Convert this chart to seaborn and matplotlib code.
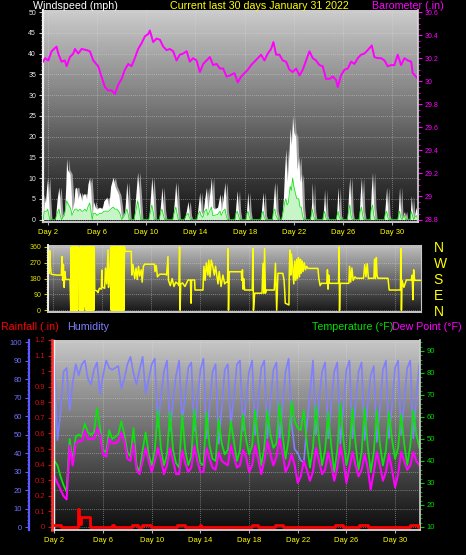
import numpy as np
import pandas as pd
import matplotlib
matplotlib.use("Agg")
import matplotlib.pyplot as plt
import seaborn as sns
from matplotlib.ticker import MultipleLocator, FuncFormatter
from matplotlib.transforms import offset_copy

# ---------------- data ----------------
day_ticks = [2, 6, 10, 14, 18, 22, 26, 30]

# wind speed (mph): gust and average
wind_day = [1.62, 1.70, 1.80, 1.90, 1.98, 2.05, 2.15, 2.60, 2.75, 2.90, 3.00, 3.10,
            3.35, 3.45, 3.52, 3.60, 3.79, 3.90, 3.95, 4.10, 4.20, 4.33, 4.45, 4.60,
            4.75, 4.85, 5.00, 5.15, 5.25, 5.40, 5.50, 5.60, 5.70, 5.85, 6.00, 6.20,
            6.40, 6.55, 6.80, 6.95, 7.10, 7.30, 7.45, 7.60, 7.75, 7.85, 8.00, 8.25,
            8.42, 8.55, 8.60, 9.00, 9.15, 9.30, 9.45, 9.55, 10.20, 10.35, 10.45, 10.55,
            10.65, 11.05, 11.20, 11.27, 11.40, 11.50, 12.15, 12.30, 12.40, 12.50, 12.60, 13.10,
            13.25, 13.40, 13.50, 13.60, 14.10, 14.25, 14.35, 14.45, 14.60, 14.75, 14.90, 15.00,
            15.15, 15.30, 15.40, 15.55, 15.80, 16.00, 16.10, 16.25, 16.40, 16.50, 16.60, 17.20,
            17.30, 17.40, 17.50, 17.60, 18.10, 18.20, 18.26, 18.35, 18.45, 19.30, 19.42, 19.50,
            19.60, 19.70, 20.25, 20.35, 20.45, 20.55, 20.70, 21.00, 21.15, 21.25, 21.35, 21.45,
            21.55, 21.70, 21.80, 21.90, 22.00, 22.15, 22.25, 22.40, 22.50, 22.60, 22.70, 22.80,
            23.35, 23.45, 23.50, 23.60, 23.70, 24.35, 24.45, 24.50, 24.60, 24.70, 25.45, 25.55,
            25.60, 25.70, 25.80, 26.35, 26.45, 26.55, 26.65, 26.75, 27.30, 27.40, 27.50, 27.60,
            27.70, 28.20, 28.30, 28.40, 28.50, 28.60, 29.35, 29.45, 29.55, 29.65, 29.75, 30.45,
            30.55, 30.60, 30.70, 30.80, 31.00, 31.10, 31.45, 31.55, 31.65, 31.75, 31.95, 32.10]
wind_gust = [0, 6, 4, 8, 10.2, 5, 0, 0, 5, 7.8, 3, 0,
             2, 8, 14.7, 12, 11, 6, 2, 4, 7.5, 7.8, 5, 6.6,
             4.5, 6, 6.3, 5, 8.5, 10.2, 6, 0.5, 4.4, 3, 2.5, 3,
             2.5, 4.5, 5.4, 3, 8, 10.2, 8, 7, 6, 4, 0, 2,
             9, 2, 0, 0, 6, 11.4, 5, 0, 0, 6, 10.2, 6,
             0, 0, 5, 7.8, 2, 0, 0, 5, 9, 4, 0, 0,
             2, 4.4, 1, 0, 0, 4, 6.6, 2, 1, 5, 7.8, 2,
             6, 10.2, 3, 2.5, 3, 6.2, 2, 5, 9, 2, 0, 0,
             4, 7, 2, 0, 0, 4, 6.6, 2, 0, 0, 4, 6.6,
             1, 0, 0, 5, 9, 2, 0, 0, 5, 12, 17, 9,
             13, 22, 18, 25, 21, 20, 12, 15, 9, 11, 3, 0,
             0, 4, 9, 2, 0, 0, 4, 7.3, 1, 0, 0, 5,
             7.8, 1, 0, 0, 6, 10.2, 2, 0, 0, 6, 10.2, 2,
             0, 0, 7, 11.4, 3, 0, 0, 4, 7.8, 1, 0, 0,
             5, 7.8, 1, 0, 2, 0, 0, 5.8, 2, 0, 3, 0]
wind_avg = [0, 2, 2, 2, 2.5, 1.5, 0, 0, 1.5, 2.5, 1, 0,
            1, 3, 4.5, 4, 3, 2, 1, 2, 2.5, 2.5, 2, 2.5,
            2, 2, 2.5, 2, 3, 4, 2, 0, 1.5, 1.5, 1, 1.5,
            1.5, 2, 2, 2, 2.5, 3, 2.5, 2.5, 2, 1.5, 0, 1,
            2.5, 1, 0, 0, 2, 4.5, 2, 0, 0, 2, 3.5, 2,
            0, 0, 2, 2.5, 1, 0, 0, 2, 3, 1.5, 0, 0,
            1, 1.5, 0.5, 0, 0, 1.5, 2, 1, 0.5, 2, 2.5, 1,
            2, 3, 1, 1, 1.2, 2, 1, 2, 2.5, 1, 0, 0,
            1.5, 2, 1, 0, 0, 1.5, 2, 1, 0, 0, 1.5, 2,
            0.5, 0, 0, 2, 2.5, 1, 0, 0, 2, 4, 5, 3.5,
            4, 8, 7, 10, 8, 6, 5, 5, 3, 3, 1, 0,
            0, 1.5, 2.5, 1, 0, 0, 1.5, 2, 0.5, 0, 0, 1.5,
            2, 0.5, 0, 0, 2, 3.5, 1, 0, 0, 2, 3, 1,
            0, 0, 2.5, 3.5, 1, 0, 0, 1.5, 2, 0.5, 0, 0,
            1.5, 2, 0.5, 0, 1, 0, 0, 2, 1, 0, 1, 0]

# barometer (inHg)
baro_day = [1.62, 1.76, 2.03, 2.30, 2.70, 2.84, 3.11, 3.38, 3.52, 3.79, 4.06, 4.20,
            4.47, 4.74, 5.14, 5.41, 5.69, 6.09, 6.36, 6.63, 6.90, 7.18, 7.45, 7.72,
            7.99, 8.26, 8.53, 8.80, 9.07, 9.34, 9.62, 9.89, 10.16, 10.29, 10.56, 10.84,
            11.11, 11.38, 11.65, 11.92, 12.19, 12.46, 12.73, 13.00, 13.28, 13.54, 13.81, 14.09,
            14.36, 14.63, 14.90, 15.17, 15.44, 15.72, 15.98, 16.25, 16.53, 16.80, 17.17, 17.44,
            17.71, 17.99, 18.26, 18.53, 18.80, 19.07, 19.34, 19.61, 19.88, 20.15, 20.34, 20.56,
            20.83, 21.10, 21.37, 21.64, 21.91, 22.19, 22.46, 22.73, 23.00, 23.27, 23.54, 23.81,
            24.08, 24.35, 24.62, 24.90, 25.17, 25.44, 25.57, 25.84, 26.12, 26.39, 26.66, 26.93,
            27.20, 27.47, 27.74, 28.01, 28.34, 28.55, 28.83, 29.10, 29.37, 29.64, 29.91, 30.18,
            30.45, 30.72, 31.00, 31.27, 31.54, 31.67, 31.94, 32.10]
baro_inhg = [30.17, 30.20, 30.18, 30.26, 30.30, 30.24, 30.17, 30.18, 30.13, 30.21, 30.24, 30.28,
             30.24, 30.28, 30.27, 30.26, 30.18, 30.13, 30.04, 29.95, 29.92, 29.92, 29.89, 29.97,
             30.02, 30.10, 30.15, 30.13, 30.20, 30.28, 30.33, 30.39, 30.41, 30.44, 30.34, 30.37,
             30.36, 30.30, 30.27, 30.28, 30.26, 30.18, 30.23, 30.24, 30.26, 30.17, 30.20, 30.18,
             30.08, 30.15, 30.18, 30.21, 30.14, 30.15, 30.11, 30.11, 30.04, 30.05, 30.07, 29.99,
             30.04, 30.07, 30.10, 30.14, 30.17, 30.20, 30.23, 30.18, 30.24, 30.28, 30.34, 30.23,
             30.23, 30.18, 30.17, 30.10, 30.08, 30.11, 30.05, 30.10, 30.18, 30.26, 30.20, 30.18,
             30.14, 30.13, 30.02, 30.02, 30.04, 30.01, 29.95, 30.05, 30.10, 30.11, 30.17, 30.15,
             30.20, 30.23, 30.24, 30.27, 30.31, 30.21, 30.20, 30.20, 30.18, 30.13, 30.14, 30.14,
             30.23, 30.14, 30.20, 30.18, 30.17, 30.07, 30.04, 30.02]

# wind direction (degrees)
wdir_day = [1.70, 1.74, 1.80, 1.86, 2.30, 2.69, 2.75, 2.80, 2.86, 2.92, 2.98, 3.05, 3.40,
            3.46, 3.50, 3.54, 3.58, 3.62, 3.66, 3.70, 3.74, 3.78, 3.82, 3.86, 3.90, 3.94, 3.98, 4.02, 4.05,
            4.10, 4.15,
            4.19, 4.23, 4.27, 4.31, 4.35, 4.39, 4.43, 4.47, 4.51, 4.55,
            4.60, 4.63,
            4.66, 4.70, 4.74, 4.78, 4.82, 4.86, 4.90, 4.94, 4.98, 5.02, 5.06, 5.10, 5.14, 5.18,
            5.22, 5.26, 5.30, 5.34, 5.38,
            5.42, 5.60, 5.69, 5.80, 5.96, 6.00, 6.05, 6.23, 6.30, 6.40, 6.51, 6.55, 6.64,
            6.73, 6.77, 6.81, 6.85, 6.89, 6.93, 6.97, 7.01, 7.05, 7.09, 7.13, 7.17, 7.21, 7.25,
            7.29, 7.33, 7.37, 7.41, 7.45, 7.49, 7.53, 7.57, 7.61, 7.65, 7.69, 7.73, 7.77, 7.81, 7.85,
            7.90, 8.41, 8.45, 8.55, 8.69, 8.80, 8.90, 9.00, 9.10, 9.23, 9.30, 9.40, 9.50,
            10.30, 10.35, 10.45, 10.55, 10.73, 11.20, 11.30, 11.41, 11.45, 11.60, 11.75, 11.90,
            12.05, 12.23, 12.30, 12.36, 12.40, 12.45, 12.60, 12.80, 13.05, 13.25, 13.30, 13.34,
            13.59, 13.62, 14.27, 14.35, 14.45, 14.55, 14.68, 14.75, 14.85, 14.95, 15.10, 15.20,
            15.30, 15.50, 15.60, 15.75, 15.90, 16.05, 16.18, 16.28, 16.32, 16.36, 16.42, 17.41,
            17.45, 17.50, 17.55, 17.60, 17.68, 18.30, 18.36, 18.40, 18.50, 19.10, 19.18, 19.25,
            19.31, 19.38, 19.45, 20.10, 20.20, 20.30, 20.40, 20.80, 20.90, 20.95, 21.00, 21.30,
            21.33, 21.38, 21.45, 21.50, 21.60, 21.70, 21.78, 21.86, 21.94, 22.00, 22.08, 22.16,
            22.24, 22.30, 22.38, 22.46, 22.55, 22.65, 22.75, 22.86, 23.67, 23.75, 23.85, 23.95,
            24.40, 24.45, 24.50, 24.55, 24.60, 25.36, 25.40, 25.44, 25.48, 26.20, 26.26, 26.35,
            26.45, 26.55, 26.70, 26.81, 27.40, 27.50, 27.60, 27.70, 27.80, 27.90, 28.25, 28.30,
            28.38, 28.45, 28.50, 28.58, 29.40, 29.50, 30.42, 30.45, 30.50, 30.55, 30.70, 30.90,
            31.30, 31.38, 31.44, 31.50, 31.58, 32.10]
wdir_deg = [210, 340, 250, 205, 200, 200, 305, 170, 260, 130, 220, 175, 175,
            0, 360, 0, 360, 0, 360, 0, 360, 0, 360, 0, 360, 0, 360, 0, 360,
            300, 350,
            0, 360, 0, 360, 0, 360, 0, 360, 0, 360,
            340, 20,
            360, 0, 360, 0, 360, 0, 360, 0, 360, 0, 360, 0, 360, 0,
            360, 0, 360, 0, 360,
            115, 110, 100, 125, 120, 229, 130, 125, 240, 150, 343, 130, 200,
            360, 0, 360, 0, 360, 0, 360, 0, 360, 0, 360, 0, 360, 0,
            360, 0, 360, 0, 360, 0, 360, 0, 360, 0, 360, 0, 360, 0, 360,
            335, 335, 200, 260, 180, 240, 175, 250, 195, 230, 160, 250, 262,
            262, 220, 255, 190, 205, 205, 200, 305, 170, 140, 180, 135,
            160, 150, 140, 360, 0, 150, 155, 135, 172, 172, 40, 172,
            172, 115, 115, 250, 170, 270, 200, 285, 190, 285, 240, 200,
            250, 150, 220, 135, 200, 150, 160, 160, 350, 0, 219, 219,
            170, 230, 120, 180, 115, 115, 350, 0, 97, 97, 267, 97,
            350, 97, 115, 115, 267, 0, 210, 210, 172, 120, 40, 30,
            210, 343, 200, 320, 250, 150, 280, 170, 290, 180, 300, 190,
            290, 210, 280, 220, 270, 230, 250, 238, 238, 180, 140, 153,
            153, 230, 120, 200, 153, 153, 360, 0, 153, 153, 250, 160,
            240, 170, 190, 182, 182, 260, 190, 265, 180, 182, 182, 290,
            180, 300, 200, 182, 182, 115, 115, 350, 0, 170, 130, 172,
            172, 200, 60, 230, 170, 170]

# humidity / temperature / dew point, every 6 hours from day 1.75
obs_day = np.arange(1.75, 32.01, 0.25)
humidity = [91,
            91, 47, 62, 84,  86, 63, 78, 88,  82, 88, 90, 80,  77, 85, 89, 72,
            82, 90, 86, 85,  86, 87, 75, 80,  88, 92, 83, 77,  85, 92, 72, 80,
            88, 91, 54, 70,  84, 90, 52, 68,  82, 90, 57, 70,  86, 89, 52, 68,
            85, 91, 48, 66,  84, 88, 45, 64,  85, 88, 55, 70,  88, 90, 52, 68,
            84, 90, 50, 68,  86, 90, 48, 68,  85, 89, 46, 66,  84, 91, 55, 42,
            40, 36, 35, 55,  72, 90, 50, 68,  84, 89, 48, 66,  84, 89, 45, 65,
            85, 90, 48, 66,  84, 89, 47, 66,  82, 87, 46, 64,  85, 90, 48, 66,
            86, 90, 50, 68,  86, 90, 48, 70,
            88]
temperature = [32,
               40, 38, 33, 29,  26, 50, 40, 51,  52, 51, 57, 53,  52, 53, 64, 55,
               45, 44, 54, 50,  51, 52, 58, 52,  44, 42, 55, 38,  35, 45, 53, 43,
               38, 45, 63, 46,  38, 43, 62, 45,  39, 37, 61, 45,  38, 42, 63, 46,
               39, 38, 62, 47,  41, 40, 59, 48,  43, 45, 58, 49,  40, 45, 61, 50,
               43, 47, 63, 49,  38, 46, 63, 52,  46, 48, 66, 52,  41, 50, 67, 58,
               55, 54, 63, 48,  37, 46, 65, 50,  38, 45, 62, 47,  35, 45, 66, 50,
               38, 45, 64, 48,  36, 44, 64, 47,  35, 44, 63, 48,  38, 45, 62, 50,
               41, 46, 61, 48,  38, 47, 63, 52,
               46]
dew_point = [25,
             33, 30, 27, 24,  22.5, 47, 38, 48,  49, 49, 54, 50,  50, 50, 55, 52,
             43, 42, 50, 48,  48, 49, 53, 49,  41, 40, 48, 36,  34, 40, 46, 40,
             35, 40, 46, 41,  34, 38, 46, 40,  34, 34, 45, 39,  35, 37, 47, 40,
             35, 35, 46, 41,  37, 36, 44, 40,  39, 38, 47, 42,  37, 38, 45, 42,
             35, 38, 47, 41,  34, 40, 49, 43,  38, 42, 50, 44,  35, 38, 43, 38,
             30, 33, 40, 36,  31, 35, 46, 40,  34, 36, 44, 38,  31, 37, 47, 40,
             30, 37, 44, 38,  33, 36, 43, 37,  27, 35, 44, 38,  31, 35, 43, 36,
             28, 34, 44, 40,  36, 38, 44, 40,
             38]

# rainfall (in), stepped
rain_day = [1.80, 2.50, 3.90, 3.95, 4.02, 4.20, 4.95, 6.75, 6.90, 8.40, 8.90, 9.20, 9.90,
            12.10, 12.70, 13.95, 14.05, 18.20, 18.70, 20.10, 20.80, 25.10, 25.70, 27.00,
            27.80, 31.20, 31.90, 32.05]
rain_in = [0.01, 0.0, 0.02, 0.115, 0.02, 0.065, 0.0, 0.01, 0.0, 0.01, 0.0, 0.01, 0.0,
           0.01, 0.0, 0.01, 0.0, 0.01, 0.0, 0.01, 0.0, 0.01, 0.0, 0.01,
           0.0, 0.01, 0.0, 0.0]

# ---------------- drawing ----------------
plt.rcParams['font.family'] = ['Liberation Sans', 'DejaVu Sans']
W, H = 466, 555
fig = plt.figure(figsize=(W / 100, H / 100), dpi=100, facecolor='black')


def px_axes(left, top, right, bottom):
    return fig.add_axes([left / W, 1 - bottom / H, (right - left) / W, (bottom - top) / H])


def shade(ax, top, bottom):
    ramp = np.linspace(top, bottom, 200)[:, None]
    ax.imshow(ramp, cmap='gray', vmin=0, vmax=1, extent=(0, 1, 0, 1),
              transform=ax.transAxes, aspect='auto', zorder=0, interpolation='bilinear')


def dotted_grid(ax):
    ax.grid(True, which='major', color='#e0e0e0', linestyle=(0, (1, 1.5)), lw=0.6, alpha=0.55)


gfmt = FuncFormatter(lambda v, p: f'{v:g}')
day_labels = [f'Day {d}' for d in day_ticks]

# ---- panel 1: wind speed + barometer
ax1 = px_axes(43, 10, 418, 222)
shade(ax1, 0.80, 0.07)
shadow = ax1.fill_between(wind_day, 0, wind_gust, color='#a0a0a0', lw=0, zorder=2)
shadow.set_transform(offset_copy(ax1.transData, fig=fig, x=1.6, y=0, units='points'))
ax1.fill_between(wind_day, 0, wind_gust, color='white', lw=0, zorder=3)
ax1.fill_between(wind_day, 0, wind_avg, color='#c8f5c8', lw=0, zorder=4)
sns.lineplot(x=wind_day, y=wind_avg, ax=ax1, color='#20e020', lw=0.6,
             estimator=None, sort=False, zorder=5)
ax1b = ax1.twinx()
sns.lineplot(x=baro_day, y=baro_inhg, ax=ax1b, color='#ff00ff', lw=1.4,
             estimator=None, sort=False)

ax1.set_xlim(1.6, 32.1)
ax1.set_ylim(-0.6, 50.5)
ax1b.set_ylim(28.8 - 0.6 * 0.036, 28.8 + 50.5 * 0.036)
ax1.set_xticks(day_ticks)
ax1.set_xticklabels(day_labels)
ax1.set_yticks(range(0, 51, 5))
ax1.yaxis.set_minor_locator(MultipleLocator(1))
ax1b.set_yticks([28.8, 29.0, 29.2, 29.4, 29.6, 29.8, 30.0, 30.2, 30.4, 30.6])
ax1b.yaxis.set_major_formatter(gfmt)
ax1b.yaxis.set_minor_locator(MultipleLocator(0.05))
ax1.tick_params(axis='x', labelcolor='#ffff00', color='#b0b0b0', labelsize=5.5, length=2, pad=3)
ax1.tick_params(axis='y', which='major', labelcolor='#e8e8e8', color='#c8c8c8', labelsize=5, length=3, pad=2)
ax1.tick_params(axis='y', which='minor', color='#a0a0a0', length=1.5)
ax1b.tick_params(axis='y', which='major', labelcolor='#ff00ff', color='#ff00ff', labelsize=5, length=3, pad=2)
ax1b.tick_params(axis='y', which='minor', color='#ff00ff', length=1.5)
dotted_grid(ax1)
for s in ['top', 'right']:
    ax1.spines[s].set_visible(False)
ax1.spines['left'].set_color('#f0f0f0')
ax1.spines['left'].set_linewidth(1.6)
ax1.spines['bottom'].set_color('#c8c8c8')
ax1.spines['bottom'].set_linewidth(1.4)
for s in ['top', 'left', 'bottom']:
    ax1b.spines[s].set_visible(False)
ax1b.spines['right'].set_color('#d8d8d8')
ax1b.spines['right'].set_linewidth(1.2)
ax1b.set_ylabel('')
ax1.set_ylabel('')

# ---- panel 2: wind direction
ax2 = px_axes(48, 245, 421, 312)
shade(ax2, 0.76, 0.09)
sns.lineplot(x=wdir_day, y=wdir_deg, ax=ax2, color='#ffff00', lw=1.1,
             estimator=None, sort=False)
ax2.set_xlim(1.6, 32.1)
ax2.set_ylim(-10, 371)
ax2.set_xticks(day_ticks)
ax2.set_xticklabels([])
ax2.set_yticks([0, 90, 180, 270, 360])
ax2.yaxis.set_minor_locator(MultipleLocator(15))
ax2.tick_params(axis='x', length=0)
ax2.tick_params(axis='y', which='major', labelcolor='#e6e600', color='#d0d000', labelsize=5, length=3, pad=2)
ax2.tick_params(axis='y', which='minor', color='#b0b000', length=1.5)
dotted_grid(ax2)
ax2b = ax2.twinx()
ax2b.set_ylim(-10, 371)
ax2b.set_yticks([0, 90, 180, 270, 360])
ax2b.set_yticklabels(['N', 'E', 'S', 'W', 'N'])
ax2b.tick_params(axis='y', length=0, labelsize=10, labelcolor='#ffff00', pad=9)
for s in ['top', 'right']:
    ax2.spines[s].set_visible(False)
ax2.spines['left'].set_color('#f0f0f0')
ax2.spines['left'].set_linewidth(1.4)
ax2.spines['bottom'].set_color('#c8c8c8')
ax2.spines['bottom'].set_linewidth(1.4)
for s in ['top', 'left', 'bottom']:
    ax2b.spines[s].set_visible(False)
ax2b.spines['right'].set_color('#c8c8c8')
ax2.set_ylabel('')

# ---- panel 3: humidity, temperature, dew point, rainfall
ax3 = px_axes(52, 340, 420, 530)
shade(ax3, 0.78, 0.05)
sns.lineplot(x=obs_day, y=humidity, ax=ax3, color='#8080ff', lw=1.2,
             estimator=None, sort=False)
ax3t = ax3.twinx()
sns.lineplot(x=obs_day, y=temperature, ax=ax3t, color='#10e010', lw=1.3,
             estimator=None, sort=False)
sns.lineplot(x=obs_day, y=dew_point, ax=ax3t, color='#ff00ff', lw=1.5,
             estimator=None, sort=False)
ax3r = ax3.twinx()
sns.lineplot(x=rain_day, y=rain_in, ax=ax3r, color='#ff0000', lw=2.0,
             estimator=None, sort=False, drawstyle='steps-post')

ax3.set_xlim(1.8, 32.05)
ax3.set_ylim(-1.6, 101.1)
ax3t.set_ylim(8.6, 95)
ax3r.set_ylim(-0.0193, 1.2)
ax3.set_xticks(day_ticks)
ax3.set_xticklabels(day_labels)
ax3.set_yticks(range(0, 101, 10))
ax3.yaxis.set_minor_locator(MultipleLocator(2))
ax3t.set_yticks(range(10, 91, 10))
ax3t.yaxis.set_minor_locator(MultipleLocator(2))
ax3r.set_yticks([i / 10 for i in range(13)])
ax3r.yaxis.set_major_formatter(gfmt)
ax3r.yaxis.set_minor_locator(MultipleLocator(0.025))
ax3r.yaxis.tick_left()
ax3r.yaxis.set_label_position('left')

ax3.tick_params(axis='x', labelcolor='#ffff00', color='#b0b0b0', labelsize=5.5, length=2, pad=3)
ax3.tick_params(axis='y', which='major', labelcolor='#7070ff', color='#6060ff', labelsize=5.5, length=3, pad=2)
ax3.tick_params(axis='y', which='minor', color='#6060ff', length=1.5)
ax3t.tick_params(axis='y', which='major', labelcolor='#00d800', color='#00d000', labelsize=5.5, length=3, pad=2)
ax3t.tick_params(axis='y', which='minor', color='#00c000', length=1.5)
ax3r.tick_params(axis='y', which='major', labelcolor='#d01010', color='#d01010', labelsize=5.5, length=3, pad=2)
ax3r.tick_params(axis='y', which='minor', color='#c01010', length=1.5)
dotted_grid(ax3)

ax3.spines['left'].set_position(('outward', 16.5))
ax3.spines['left'].set_color('#5a5aff')
ax3.spines['left'].set_linewidth(1.6)
ax3.spines['bottom'].set_color('#c8c8c8')
ax3.spines['bottom'].set_linewidth(1.4)
for s in ['top', 'right']:
    ax3.spines[s].set_visible(False)
for s in ['top', 'bottom']:
    ax3t.spines[s].set_visible(False)
ax3t.spines['left'].set_position(('outward', -1.2))
ax3t.spines['left'].set_color('#f0f0f0')
ax3t.spines['left'].set_linewidth(1.0)
ax3t.spines['right'].set_color('#d0d0d0')
ax3t.spines['right'].set_linewidth(1.2)
for s in ['top', 'bottom', 'right']:
    ax3r.spines[s].set_visible(False)
ax3r.spines['left'].set_color('#ff3030')
ax3r.spines['left'].set_linewidth(1.8)
ax3r.spines['left'].set_linestyle((0, (1.5, 1)))
for a in [ax3, ax3t, ax3r]:
    a.set_ylabel('')

# ---- header texts
ty = 1 - 6 / H
fig.text(33 / W, ty, 'Windspeed (mph)', color='white', fontsize=7.7, ha='left', va='center')
fig.text(259 / W, ty, 'Current last 30 days January 31 2022', color='#ffff00', fontsize=7.7,
         ha='center', va='center')
fig.text(372 / W, ty, 'Barometer (.in)', color='#ff00ff', fontsize=7.7, ha='left', va='center')

ly = 1 - 327 / H
fig.text(1 / W, ly, 'Rainfall (.in)', color='#ff0000', fontsize=7.7, ha='left', va='center')
fig.text(67 / W, ly, 'Humidity', color='#8080ff', fontsize=7.7, ha='left', va='center')
fig.text(312 / W, ly, 'Temperature (°F)', color='#00e000', fontsize=7.7, ha='left', va='center')
fig.text(392 / W, ly, 'Dew Point (°F)', color='#ff00ff', fontsize=7.7, ha='left', va='center')

fig.savefig('out.png', dpi=100, facecolor='black')
